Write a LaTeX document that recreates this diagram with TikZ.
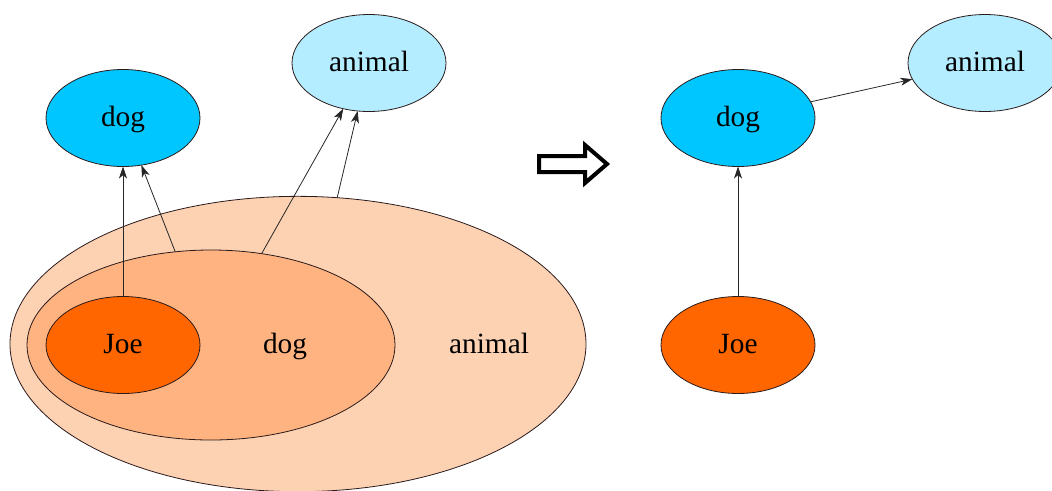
\documentclass[tikz,border=0pt]{standalone}
\usepackage{fontspec}
\setmainfont{Liberation Serif}
\usetikzlibrary{shapes.geometric,arrows.meta}

\definecolor{joeorange}{HTML}{FF6600}
\definecolor{dogpeach}{HTML}{FFB380}
\definecolor{animalpeach}{HTML}{FDD2B3}
\definecolor{dogblue}{HTML}{00C6FF}
\definecolor{animalblue}{HTML}{B3EDFF}
\definecolor{edgeline}{HTML}{2A1A1A}

\tikzset{
  txt/.style={font=\fontsize{22}{26}\selectfont, text height=15pt, text depth=3pt},
  blob/.style={ellipse, draw=edgeline, line width=0.6pt, inner sep=0pt, outer sep=0pt},
  concept/.style={blob, txt, minimum width=115.5pt, minimum height=72.75pt},
  label/.style={txt, inner sep=0pt},
  isa/.style={-{Stealth[length=9pt,width=6pt,inset=2.5pt]}, line width=0.6pt, draw=black!85},
}

\begin{document}
\begin{tikzpicture}[x=0.75pt, y=-0.75pt]
  \useasboundingbox (0,0) rectangle (1052,490);

  % ---- left: nested sets ----
  \node[blob, fill=animalpeach, minimum width=432pt, minimum height=221.5pt] (animalset) at (298,344) {};
  \node[blob, fill=dogpeach, minimum width=276pt, minimum height=142.5pt] (dogset) at (211,345) {};
  \node[concept, fill=joeorange] (joeL) at (123,345) {Joe};
  \node[label] (doglbl) at (285,345) {dog};
  \node[label] (animallbl) at (489,345) {animal};

  \node[concept, fill=dogblue] (dogL) at (123,118) {dog};
  \node[concept, fill=animalblue] (animalL) at (369,63) {animal};

  \draw[isa] (joeL) -- (dogL);
  \draw[isa] (dogset.111) -- (dogL);
  \draw[isa] (dogset.61) -- (animalL);
  \draw[isa] (animalset.75.5) -- (animalL);

  % ---- middle: transformation arrow ----
  \draw[line width=3pt, line join=miter]
    (539,156) -- (585,156) -- (585,145) -- (607,164) -- (585,183) -- (585,172) -- (539,172) -- cycle;

  % ---- right: resulting graph ----
  \node[concept, fill=joeorange] (joeR) at (738,345) {Joe};
  \node[concept, fill=dogblue] (dogR) at (738,118) {dog};
  \node[concept, fill=animalblue] (animalR) at (985,63) {animal};

  \draw[isa] (joeR) -- (dogR);
  \draw[isa] (dogR) -- (animalR);
\end{tikzpicture}
\end{document}
